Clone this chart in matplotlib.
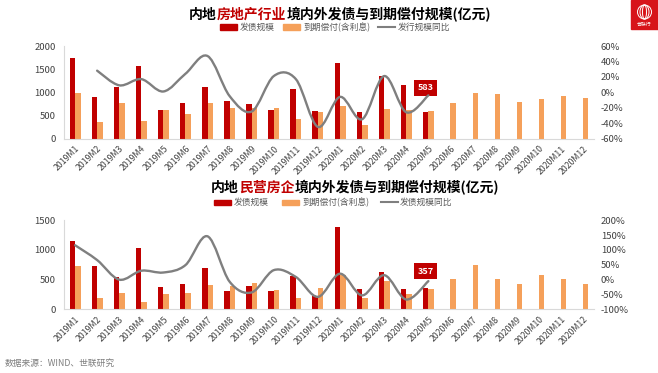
import matplotlib
matplotlib.use("Agg")
import matplotlib.pyplot as plt
import numpy as np
from matplotlib.path import Path
from matplotlib.patches import PathPatch, Rectangle, Ellipse
from matplotlib.ticker import FuncFormatter

plt.rcParams['font.family'] = ['Noto Sans CJK SC', 'DejaVu Sans']

# ---------------- data ----------------
months = ["2019M1", "2019M2", "2019M3", "2019M4", "2019M5", "2019M6", "2019M7", "2019M8",
          "2019M9", "2019M10", "2019M11", "2019M12", "2020M1", "2020M2", "2020M3", "2020M4",
          "2020M5", "2020M6", "2020M7", "2020M8", "2020M9", "2020M10", "2020M11", "2020M12"]

# top chart: real estate industry
top_issue = [1730, 890, 1120, 1565, 607, 758, 1105, 816, 745, 621, 1061, 592,
             1625, 578, 1357, 1162, 583]
top_mature = [985, 360, 773, 383, 607, 534, 758, 650, 665, 657, 426, 572,
              700, 284, 636, 614, 600, 765, 982, 953, 790, 853, 925, 885]
top_yoy = [28, 9, 17, 1, 24, 47, -5, -25, 21, 17, -45, -6, -35, 21, -26, -4]  # from 2019M2
top_yoy_start = 1

# bottom chart: private developers
bot_issue = [1157, 736, 542, 1034, 378, 434, 695, 305, 395, 310, 557, 225,
             1390, 342, 621, 342, 357]
bot_mature = [736, 185, 281, 120, 264, 280, 412, 395, 451, 320, 186, 352,
              580, 186, 480, 259, 345, 506, 740, 506, 432, 576, 506, 421]
bot_yoy = [116, 66, 0, 30, 24, 49, 146, -7, -43, 32, 9, -58, 20, -53, 15, -67, -5]
bot_yoy_start = 0

RED = "#C00000"
ORANGE = "#F5A05A"
GRAY = "#7F7F7F"
TXT = "#404040"

W, H = 658, 373
fig = plt.figure(figsize=(W / 100, H / 100), dpi=100)


def fx(px):
    return px / W


def fy(py):
    return 1 - py / H


def smooth_patch(xs, ys, **kw):
    xs = np.asarray(xs, float)
    ys = np.asarray(ys, float)
    pts = np.column_stack([xs, ys])
    verts = [tuple(pts[0])]
    codes = [Path.MOVETO]
    n = len(pts)
    for i in range(n - 1):
        p0 = pts[i - 1] if i > 0 else pts[i]
        p1 = pts[i]
        p2 = pts[i + 1]
        p3 = pts[i + 2] if i + 2 < n else pts[i + 1]
        c1 = p1 + (p2 - p0) / 6.0
        c2 = p2 - (p3 - p1) / 6.0
        verts += [tuple(c1), tuple(c2), tuple(p2)]
        codes += [Path.CURVE4] * 3
    return PathPatch(Path(verts, codes), fill=False, **kw)


def make_panel(rect, issue, mature, yoy, yoy_start, ylim, yticks, y2lim, y2ticks, lab):
    ax = fig.add_axes(rect)
    n = len(months)
    x = np.arange(n)
    bw = 0.25
    ax.bar(np.arange(len(issue)) - bw / 2, issue, width=bw, color=RED, zorder=2)
    ax.bar(np.arange(len(mature)) + bw / 2, mature, width=bw, color=ORANGE, zorder=2)
    ax.set_xlim(-0.5, n - 0.5)
    ax.set_ylim(*ylim)
    ax.set_yticks(yticks)
    ax.set_xticks(x)
    ax.set_xticklabels(months, rotation=45, ha='right', va='top', rotation_mode='anchor',
                       fontsize=6.3, color=TXT)
    ax.tick_params(axis='x', length=0, pad=4)
    ax.tick_params(axis='y', length=0, pad=6, labelsize=6.8, labelcolor=TXT)
    for s in ['top', 'right']:
        ax.spines[s].set_visible(False)
    ax.spines['left'].set_color('#D9D9D9')
    ax.spines['bottom'].set_color('#D9D9D9')
    ax.patch.set_alpha(0)

    ax2 = ax.twinx()
    ax2.set_ylim(*y2lim)
    ax2.set_yticks(y2ticks)
    ax2.yaxis.set_major_formatter(FuncFormatter(lambda v, p: f"{int(round(v))}%"))
    ax2.tick_params(axis='y', length=0, pad=5, labelsize=6.8, labelcolor=TXT)
    for s in ax2.spines.values():
        s.set_visible(False)
    xs = np.arange(yoy_start, yoy_start + len(yoy))
    ax2.add_patch(smooth_patch(xs, yoy, edgecolor=GRAY, linewidth=1.7, zorder=3,
                               capstyle='round'))

    # value label of latest issuance
    li = len(issue) - 1
    ax.text(li - bw / 2, lab, f"{issue[li]}", ha='center', va='center', fontsize=6.5,
            color='white', fontweight='bold', zorder=5,
            bbox=dict(boxstyle='square,pad=0.4', fc=RED, ec='none'))
    return ax, ax2


make_panel([fx(64), fy(138.5), fx(594 - 64), (138.5 - 46) / H],
           top_issue, top_mature, top_yoy, top_yoy_start,
           (0, 2000), [0, 500, 1000, 1500, 2000], (-60, 60), list(range(-60, 61, 20)), 1100)
make_panel([fx(64), fy(309.3), fx(594 - 64), (309.3 - 220.3) / H],
           bot_issue, bot_mature, bot_yoy, bot_yoy_start,
           (0, 1500), [0, 500, 1000, 1500], (-100, 200), list(range(-100, 201, 50)), 640)

renderer = fig.canvas.get_renderer()


def multi_title(parts, cx, cy, size):
    texts = []
    for s, c in parts:
        t = fig.text(0, fy(cy), s, color=c, fontsize=size, fontweight='bold',
                     ha='left', va='center')
        texts.append(t)
    widths = [t.get_window_extent(renderer).width for t in texts]
    total = sum(widths)
    x0 = cx - total / 2
    for t, w in zip(texts, widths):
        t.set_x(fx(x0))
        x0 += w


multi_title([("内地", "black"), ("房地产行业", RED), ("境内外发债与到期偿付规模(亿元)", "black")],
            340, 15, 10)
multi_title([("内地", "black"), ("民营房企", RED), ("境内外发债与到期偿付规模(亿元)", "black")],
            355, 188, 10)


def legend(py, line_label, xs):
    rx, tx1, ox, tx2, lx, tx3 = xs
    fig.patches.append(Rectangle((fx(rx), fy(py + 2.5)), fx(17), 5 / H, color=RED,
                                 transform=fig.transFigure, figure=fig))
    fig.text(fx(tx1), fy(py), "发债规模", fontsize=6.3, color='#595959', va='center')
    fig.patches.append(Rectangle((fx(ox), fy(py + 2.5)), fx(17), 5 / H, color=ORANGE,
                                 transform=fig.transFigure, figure=fig))
    fig.text(fx(tx2), fy(py), "到期偿付(含利息)", fontsize=6.3, color='#595959', va='center')
    fig.lines.append(plt.Line2D([fx(lx), fx(lx + 17)], [fy(py), fy(py)], color=GRAY, lw=1.5,
                                transform=fig.transFigure, figure=fig))
    fig.text(fx(tx3), fy(py), line_label, fontsize=6.3, color='#595959', va='center')


legend(27, "发行规模同比", (220, 240, 283, 303, 378, 398))
legend(202, "发债规模同比", (214, 234, 282, 302, 381, 400))

fig.text(fx(5), fy(363), "数据来源：WIND、世联研究", fontsize=6.3, color='#7F7F7F', va='center')

# logo
fig.patches.append(Rectangle((fx(631), fy(29)), fx(27), 29 / H, color='#D7141A',
                             transform=fig.transFigure, figure=fig))
for wdt in [14, 9, 4]:
    fig.patches.append(Ellipse((fx(644.5), fy(12)), fx(wdt), 14 / H, fill=False, ec='white',
                               lw=0.7, transform=fig.transFigure, figure=fig))
fig.text(fx(644.5), fy(24), "世联行", fontsize=3.5, color='white', ha='center', va='center')

fig.savefig("out.png", dpi=100)
